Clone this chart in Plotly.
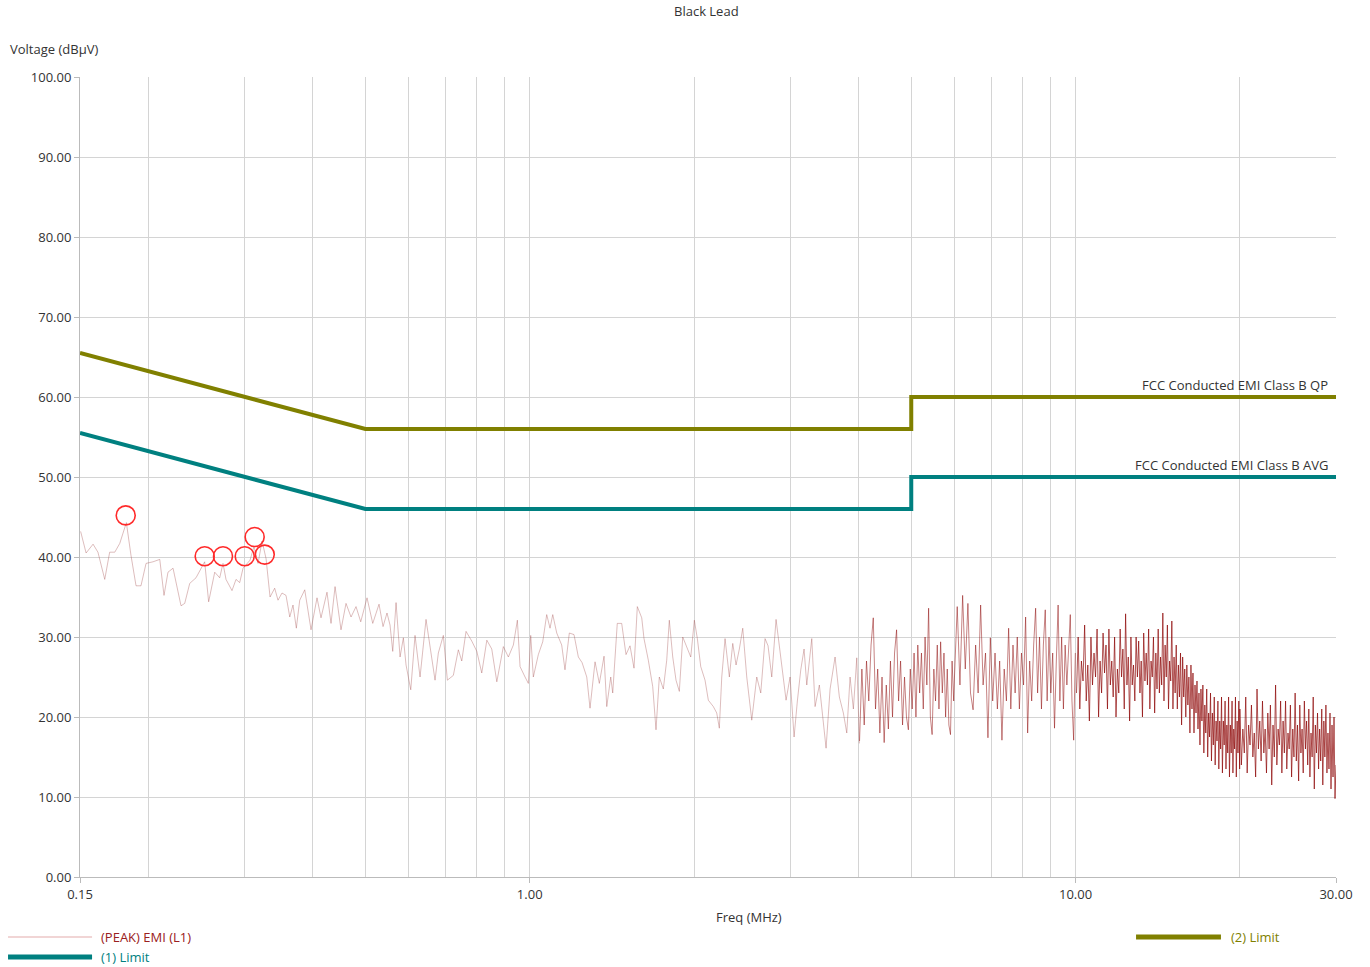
import plotly.graph_objects as go

# ---------------- data ----------------
# Limit lines (MHz, dBuV)
qp_freq = [0.15, 0.5, 5.0, 5.0, 30.0]
qp_db = [65.5, 56.0, 56.0, 60.0, 60.0]
avg_freq = [0.15, 0.5, 5.0, 5.0, 30.0]
avg_db = [55.5, 46.0, 46.0, 50.0, 50.0]

# Peak EMI trace, lower band (0.15 - 4 MHz)
emi_freq_low = [
    0.1504, 0.1539, 0.1585, 0.1618, 0.1665, 0.1700, 0.1737, 0.1774, 0.1824, 0.1860,
    0.1900, 0.1940, 0.1982, 0.2041, 0.2100, 0.2138, 0.2174, 0.2221, 0.2297, 0.2333,
    0.2383, 0.2447, 0.2538, 0.2581, 0.2648, 0.2704, 0.2742, 0.2777, 0.2848, 0.2897,
    0.2942, 0.2984, 0.3073, 0.3125, 0.3179, 0.3233, 0.3288, 0.3344, 0.3410, 0.3458,
    0.3517, 0.3577, 0.3634, 0.3684, 0.3736, 0.3790, 0.3871, 0.3975, 0.4077, 0.4146,
    0.4252, 0.4325, 0.4399, 0.4511, 0.4607, 0.4706, 0.4806, 0.4902, 0.5034, 0.5157,
    0.5296, 0.5386, 0.5477, 0.5547, 0.5611, 0.5690, 0.5787, 0.5868, 0.5935, 0.6054,
    0.6164, 0.6296, 0.6457, 0.6567, 0.6707, 0.6801, 0.6946, 0.7065, 0.7245, 0.7400,
    0.7507, 0.7644, 0.7830, 0.8000, 0.8168, 0.8345, 0.8520, 0.8704, 0.8947, 0.9138,
    0.9333, 0.9492, 0.9600, 0.9805, 0.9942, 1.0042, 1.0153, 1.0370, 1.0564, 1.0743,
    1.0894, 1.1020, 1.1206, 1.1444, 1.1604, 1.1818, 1.2054, 1.2277, 1.2471, 1.2720,
    1.2897, 1.3172, 1.3413, 1.3682, 1.3839, 1.4074, 1.4193, 1.4468, 1.4740, 1.5010,
    1.5266, 1.5526, 1.5744, 1.6039, 1.6195, 1.6492, 1.6801, 1.7036, 1.7275, 1.7569,
    1.7823, 1.8019, 1.8281, 1.8537, 1.8797, 1.9069, 1.9336, 1.9724, 2.0026, 2.0281,
    2.0573, 2.0950, 2.1244, 2.1697, 2.2010, 2.2253, 2.2480, 2.2795, 2.3212, 2.3548,
    2.3878, 2.4213, 2.4563, 2.4981, 2.5513, 2.6057, 2.6500, 2.6985, 2.7329, 2.7759,
    2.8268, 2.8664, 2.9079, 2.9487, 2.9989, 3.0500, 3.0927, 3.1374, 3.1814, 3.2178,
    3.2864, 3.3325, 3.3935, 3.4513, 3.4907, 3.5502, 3.6258, 3.6922, 3.7550, 3.8093,
    3.8627, 3.9169, 3.9735, 4.0173,
]
emi_db_low = [
    43.2, 40.5, 41.6, 40.6, 37.2, 40.6, 40.6, 41.7, 44.3, 40.2,
    36.4, 36.4, 39.2, 39.4, 39.7, 35.2, 38.1, 38.6, 33.9, 34.2,
    36.7, 37.4, 39.4, 34.4, 38.1, 37.4, 39.2, 37.2, 35.8, 37.2,
    36.8, 38.6, 39.6, 41.3, 39.2, 42.0, 39.8, 35.0, 36.1, 34.6,
    35.5, 35.2, 32.5, 34.0, 31.1, 34.6, 35.9, 30.9, 34.9, 32.4,
    35.6, 31.7, 36.3, 30.9, 34.2, 32.5, 33.8, 31.9, 34.9, 31.7,
    34.1, 31.3, 33.0, 31.5, 28.2, 34.3, 27.5, 29.9, 26.5, 23.4,
    30.2, 25.0, 32.2, 28.8, 24.6, 28.0, 30.2, 24.6, 25.2, 28.4,
    27.0, 30.7, 29.5, 28.2, 25.5, 29.6, 28.5, 24.4, 28.8, 27.5,
    29.0, 32.1, 26.3, 25.0, 24.2, 30.2, 25.0, 27.8, 29.4, 32.8,
    31.1, 32.8, 30.5, 29.0, 25.9, 30.5, 30.3, 27.5, 26.8, 25.0,
    21.1, 26.9, 24.2, 27.6, 21.3, 25.0, 23.0, 31.7, 31.7, 27.8,
    28.9, 26.1, 33.8, 32.4, 29.8, 27.1, 23.8, 18.4, 25.0, 23.5,
    27.1, 32.1, 27.5, 24.6, 23.2, 30.0, 28.9, 27.5, 32.1, 29.8,
    26.3, 24.6, 22.1, 21.3, 20.5, 18.6, 25.0, 29.8, 25.0, 29.2,
    26.5, 28.5, 31.1, 25.0, 19.6, 25.0, 23.0, 29.8, 28.9, 25.0,
    32.2, 28.9, 25.9, 22.1, 25.0, 17.5, 22.0, 25.9, 28.5, 24.0,
    29.8, 21.3, 24.0, 19.6, 16.1, 23.5, 27.5, 22.5, 20.5, 18.0,
    25.0, 21.0, 27.4, 16.7,
]

# Peak EMI trace, 4 - 10 MHz
emi_freq_mid = [
    4.02, 4.06, 4.10, 4.14, 4.18, 4.22, 4.26, 4.30, 4.34, 4.38,
    4.42, 4.46, 4.50, 4.54, 4.58, 4.62, 4.66, 4.70, 4.74, 4.78,
    4.82, 4.86, 4.90, 4.94, 4.98, 5.02, 5.06, 5.10, 5.14, 5.18,
    5.22, 5.26, 5.30, 5.34, 5.38, 5.42, 5.46, 5.50, 5.54, 5.58,
    5.62, 5.66, 5.70, 5.74, 5.78, 5.82, 5.86, 5.90, 5.94, 5.98,
    6.00, 6.07, 6.14, 6.21, 6.28, 6.35, 6.42, 6.49, 6.56, 6.63,
    6.70, 6.77, 6.84, 6.91, 6.98, 7.05, 7.12, 7.19, 7.26, 7.33,
    7.40, 7.47, 7.54, 7.61, 7.68, 7.75, 7.82, 7.89, 7.96, 8.03,
    8.10, 8.17, 8.24, 8.31, 8.38, 8.45, 8.52, 8.59, 8.66, 8.73,
    8.80, 8.87, 8.94, 9.01, 9.08, 9.15, 9.22, 9.29, 9.36, 9.43,
    9.50, 9.57, 9.64, 9.71, 9.78, 9.85, 9.92, 9.99,
]
emi_db_mid = [
    17.0, 26.0, 19.0, 27.0, 22.0, 29.0, 32.4, 21.0, 26.0, 18.0,
    25.0, 16.8, 24.0, 18.5, 27.0, 20.0, 28.0, 30.9, 22.0, 27.0,
    19.0, 25.0, 20.0, 18.4, 26.0, 21.0, 28.0, 20.0, 29.0, 23.0,
    28.0, 21.0, 30.0, 24.0, 33.6, 20.0, 17.8, 26.0, 22.0, 29.0,
    21.0, 29.4, 23.0, 28.0, 20.0, 26.0, 19.0, 17.8, 27.0, 22.0,
    25.0, 33.8, 24.0, 35.2, 26.0, 34.2, 23.0, 20.9, 29.0, 23.0,
    34.0, 24.0, 28.0, 17.4, 29.9, 22.0, 28.0, 21.0, 27.0, 17.1,
    26.0, 22.0, 31.1, 21.0, 29.0, 23.0, 30.0, 21.0, 28.0, 24.0,
    32.5, 18.0, 27.0, 22.0, 29.0, 33.6, 23.0, 30.0, 21.0, 29.0,
    33.4, 22.0, 30.0, 23.0, 28.0, 18.6, 27.0, 34.0, 22.0, 30.0,
    21.0, 29.0, 24.0, 28.0, 32.8, 22.0, 17.1, 28.0,
]

# Peak EMI trace, 10 - 30 MHz
emi_freq_high = [
    10.04, 10.11, 10.18, 10.25, 10.32, 10.39, 10.46, 10.53, 10.60, 10.67,
    10.74, 10.81, 10.88, 10.95, 11.02, 11.09, 11.16, 11.23, 11.30, 11.37,
    11.44, 11.51, 11.58, 11.65, 11.72, 11.79, 11.86, 11.93, 12.00, 12.07,
    12.14, 12.21, 12.28, 12.35, 12.42, 12.49, 12.56, 12.63, 12.70, 12.77,
    12.84, 12.91, 12.98, 13.05, 13.12, 13.19, 13.26, 13.33, 13.40, 13.47,
    13.54, 13.61, 13.68, 13.75, 13.82, 13.89, 13.96, 14.03, 14.10, 14.17,
    14.24, 14.31, 14.38, 14.45, 14.52, 14.59, 14.66, 14.73, 14.80, 14.87,
    14.94, 15.01, 15.08, 15.15, 15.22, 15.29, 15.36, 15.43, 15.50, 15.57,
    15.64, 15.71, 15.78, 15.85, 15.92, 15.99, 16.06, 16.13, 16.20, 16.27,
    16.34, 16.41, 16.48, 16.55, 16.62, 16.69, 16.76, 16.83, 16.90, 16.97,
    17.04, 17.11, 17.18, 17.25, 17.32, 17.39, 17.46, 17.53, 17.60, 17.67,
    17.74, 17.81, 17.88, 17.95, 18.02, 18.09, 18.16, 18.23, 18.30, 18.37,
    18.44, 18.51, 18.58, 18.65, 18.72, 18.79, 18.86, 18.93, 19.00, 19.07,
    19.14, 19.21, 19.28, 19.35, 19.42, 19.49, 19.56, 19.63, 19.70, 19.77,
    19.84, 19.91, 19.98,
    20.0, 20.125, 20.25, 20.375, 20.5, 20.625, 20.75, 20.875,
    21.0, 21.125, 21.25, 21.375, 21.5, 21.625, 21.75, 21.875,
    22.0, 22.125, 22.25, 22.375, 22.5, 22.625, 22.75, 22.875,
    23.0, 23.125, 23.25, 23.375, 23.5, 23.625, 23.75, 23.875,
    24.0, 24.125, 24.25, 24.375, 24.5, 24.625, 24.75, 24.875,
    25.0, 25.125, 25.25, 25.375, 25.5, 25.625, 25.75, 25.875,
    26.0, 26.125, 26.25, 26.375, 26.5, 26.625, 26.75, 26.875,
    27.0, 27.125, 27.25, 27.375, 27.5, 27.625, 27.75, 27.875,
    28.0, 28.125, 28.25, 28.375, 28.5, 28.625, 28.75, 28.875,
    29.0, 29.125, 29.25, 29.375, 29.5, 29.625, 29.75, 29.875,
    30.0,
]
emi_db_high = [
    23.0, 30.0, 21.0, 27.0, 24.5, 31.5, 22.0, 26.5, 19.5, 30.0,
    24.0, 28.0, 25.0, 31.0, 20.0, 27.0, 23.0, 30.5, 25.5, 29.0,
    21.0, 31.0, 24.0, 27.0, 22.5, 30.0, 20.0, 26.0, 23.0, 31.0,
    25.0, 28.5, 21.0, 32.9, 24.0, 27.5, 19.5, 30.0, 24.0, 26.5,
    22.0, 30.0, 25.0, 29.5, 23.0, 27.0, 20.0, 30.5, 24.5, 28.0,
    24.0, 31.0, 21.0, 27.0, 25.0, 30.0, 20.5, 28.0, 23.5, 31.0,
    23.0, 27.5, 24.0, 33.0, 22.0, 29.0, 25.0, 31.5, 21.0, 27.0,
    24.5, 32.0, 21.0, 27.5, 23.0, 29.0, 21.0, 26.5, 22.5, 28.0,
    19.0, 27.5, 22.5, 26.0, 20.0, 26.5, 21.5, 25.0, 18.0, 26.5,
    21.0, 25.5, 18.0, 24.0, 20.5, 24.5, 18.5, 23.0, 16.5, 23.5,
    19.5, 24.0, 15.5, 21.5, 18.0, 23.5, 15.0, 20.5, 17.5, 23.0,
    14.5, 20.5, 16.5, 22.5, 14.0, 19.5, 17.0, 22.0, 13.5, 19.5,
    16.0, 22.5, 13.0, 19.5, 16.5, 22.0, 13.5, 19.0, 15.5, 22.5,
    12.5, 19.0, 15.5, 22.0, 13.0, 18.5, 16.0, 22.5, 12.5, 19.5,
    15.5, 22.0, 13.5,
    21.0, 14.0, 18.5, 15.5, 22.5, 13.0, 19.0, 16.5,
    21.5, 15.0, 18.0, 12.5, 23.5, 16.0, 19.5, 14.5,
    22.0, 15.5, 18.5, 13.0, 20.5, 16.0, 21.5, 11.5,
    19.0, 15.0, 24.0, 14.0, 18.5, 16.5, 22.0, 13.0,
    19.5, 15.5, 22.0, 13.5, 18.0, 16.0, 21.5, 12.5,
    18.5, 15.0, 23.0, 14.5, 19.0, 12.0, 21.5, 15.5,
    18.5, 13.0, 22.0, 16.0, 19.5, 14.0, 21.0, 12.5,
    18.0, 15.0, 22.5, 11.0, 19.0, 15.5, 20.5, 13.5,
    18.5, 14.5, 21.0, 11.5, 19.5, 15.0, 21.5, 13.0,
    18.0, 13.5, 20.5, 11.0, 19.0, 12.5, 20.0, 9.8,
    14.0,
]

# Peak markers
mark_freq = [0.1819, 0.2538, 0.2742, 0.3005, 0.3134, 0.3270]
mark_db = [45.2, 40.1, 40.1, 40.1, 42.5, 40.3]

# Axis ticks
y_ticks = [0, 10, 20, 30, 40, 50, 60, 70, 80, 90, 100]
x_ticks = [0.15, 1.0, 10.0, 30.0]
x_tick_text = ["0.15", "1.00", "10.00", "30.00"]
x_minor = [0.2, 0.3, 0.4, 0.5, 0.6, 0.7, 0.8, 0.9,
           2, 3, 4, 5, 6, 7, 8, 9, 20]

# ---------------- styles ----------------
TEAL = "#008080"
OLIVE = "#808000"
FONT = "Open Sans"

fig = go.Figure()

fig.add_trace(go.Scatter(
    x=emi_freq_low, y=emi_db_low, mode="lines", name="(PEAK) EMI (L1)",
    line=dict(color="rgba(160,70,70,0.45)", width=0.8), hoverinfo="skip"))
fig.add_trace(go.Scatter(
    x=emi_freq_mid, y=emi_db_mid, mode="lines", showlegend=False,
    line=dict(color="rgba(139,0,0,0.58)", width=0.85), hoverinfo="skip"))
fig.add_trace(go.Scatter(
    x=emi_freq_high, y=emi_db_high, mode="lines", showlegend=False,
    line=dict(color="rgba(139,0,0,0.75)", width=0.9), hoverinfo="skip"))

fig.add_trace(go.Scatter(
    x=avg_freq, y=avg_db, mode="lines", name="(1) Limit",
    line=dict(color=TEAL, width=4)))
fig.add_trace(go.Scatter(
    x=qp_freq, y=qp_db, mode="lines", name="(2) Limit",
    line=dict(color=OLIVE, width=4)))

fig.add_trace(go.Scatter(
    x=mark_freq, y=mark_db, mode="markers", showlegend=False,
    marker=dict(symbol="circle-open", size=19, color="#ff2a2a",
                line=dict(width=1.6, color="#ff2a2a"))))

grid = "#d4d4d4"
fig.update_xaxes(
    type="log", range=[-0.823909, 1.477121],
    tickmode="array", tickvals=x_ticks, ticktext=x_tick_text,
    ticks="outside", ticklen=5, tickcolor="#bbbbbb",
    showgrid=True, gridcolor=grid, gridwidth=1,
    minor=dict(tickmode="array", tickvals=x_minor, showgrid=True,
               gridcolor=grid, gridwidth=1, ticks=""),
    showline=True, linecolor="#bbbbbb", linewidth=1, mirror=False,
    zeroline=False, tickfont=dict(size=13, color="#333333", family=FONT),
)
fig.update_yaxes(
    range=[0, 100], tickmode="array", tickvals=y_ticks,
    ticktext=[f"{v:.2f}" for v in y_ticks],
    ticks="outside", ticklen=5, tickcolor="#bbbbbb",
    showgrid=True, gridcolor=grid, gridwidth=1,
    showline=True, linecolor="#bbbbbb", linewidth=1,
    zeroline=False, tickfont=dict(size=13, color="#333333", family=FONT),
)

annos = [
    dict(text="Black Lead", xref="paper", yref="paper", x=0.499, y=1.0, yshift=66,
         showarrow=False, xanchor="center", yanchor="middle",
         font=dict(size=13, color="#333333")),
    dict(text="Voltage (dBµV)", xref="paper", yref="paper", x=-0.0573, y=1.0, yshift=28,
         showarrow=False, xanchor="left", yanchor="middle",
         font=dict(size=13, color="#333333")),
    dict(text="Freq (MHz)", xref="paper", yref="paper", x=0.5326, y=0.0, yshift=-40,
         showarrow=False, xanchor="center", yanchor="middle",
         font=dict(size=13, color="#333333")),
    dict(text="FCC Conducted EMI Class B QP", xref="paper", yref="y", x=0.9955, y=60,
         yshift=1, showarrow=False, xanchor="right", yanchor="bottom",
         font=dict(size=13, color="#333333")),
    dict(text="FCC Conducted EMI Class B AVG", xref="paper", yref="y", x=0.9955, y=50,
         yshift=1, showarrow=False, xanchor="right", yanchor="bottom",
         font=dict(size=13, color="#333333")),
    # manual legend labels
    dict(text="(PEAK) EMI (L1)", xref="paper", yref="paper", x=0.0151, y=-0.075,
         showarrow=False, xanchor="left", yanchor="middle",
         font=dict(size=13, color="#9a2020")),
    dict(text="(1) Limit", xref="paper", yref="paper", x=0.0151, y=-0.1,
         showarrow=False, xanchor="left", yanchor="middle",
         font=dict(size=13, color=TEAL)),
    dict(text="(2) Limit", xref="paper", yref="paper", x=0.9145, y=-0.075,
         showarrow=False, xanchor="left", yanchor="middle",
         font=dict(size=13, color=OLIVE)),
]

shapes = [
    dict(type="line", xref="paper", yref="paper", x0=-0.0573, x1=0.0096,
         y0=-0.075, y1=-0.075, line=dict(color="rgba(220,150,150,0.8)", width=1)),
    dict(type="line", xref="paper", yref="paper", x0=-0.0573, x1=0.0096,
         y0=-0.1, y1=-0.1, line=dict(color=TEAL, width=5)),
    dict(type="line", xref="paper", yref="paper", x0=0.8408, x1=0.9084,
         y0=-0.075, y1=-0.075, line=dict(color=OLIVE, width=5)),
]

fig.update_layout(
    width=1370, height=967,
    margin=dict(l=80, r=34, t=77, b=90),
    plot_bgcolor="white", paper_bgcolor="white",
    showlegend=False,
    font=dict(family=FONT, size=13, color="#333333"),
    annotations=annos, shapes=shapes,
)

fig.write_html("out.html", config={"displayModeBar": False},
               post_script="document.body.style.margin='0';document.body.style.overflow='hidden';")
